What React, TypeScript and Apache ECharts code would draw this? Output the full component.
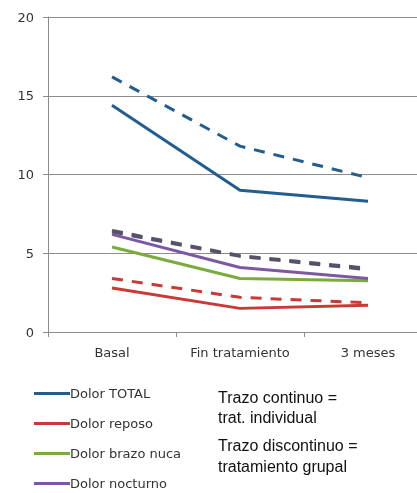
import React, { useEffect, useRef } from "react";
import * as echarts from "echarts";

const categories = ["Basal", "Fin tratamiento", "3 meses"];
const totalIndividual = [14.4, 9.0, 8.3];
const totalGrupal = [16.2, 11.8, 9.8];
const reposoIndividual = [2.8, 1.5, 1.7];
const reposoGrupal = [3.4, 2.2, 1.85];
const brazoIndividual = [5.4, 3.4, 3.25];
const brazoGrupal = [6.35, 4.8, 3.95];
const nocturnoIndividual = [6.2, 4.1, 3.4];
const nocturnoGrupal = [6.45, 4.85, 4.05];
const legendNames = ["Dolor TOTAL", "Dolor reposo", "Dolor brazo nuca", "Dolor nocturno"];
const noteLines = ["Trazo continuo =", "trat. individual", "Trazo discontinuo =", "tratamiento grupal"];

const BLUE = "#215d8f";
const RED = "#c83a35";
const GREEN = "#7aab3e";
const PURPLE = "#7c58a3";
const DASHGRAY = "#55526a";

function line(name: string, data: number[], color: string, dashed: boolean, z = 2) {
  return {
    type: "line",
    name,
    data,
    symbol: "none",
    z,
    lineStyle: { color, width: 3, type: dashed ? [11, 9] : "solid" },
    itemStyle: { color },
  };
}

export default function App() {
  const ref = useRef<HTMLDivElement>(null);
  useEffect(() => {
    if (!ref.current) return;
    const chart = echarts.init(ref.current, null, { renderer: "svg" });
    chart.setOption({
      animation: false,
      grid: { left: 48, top: 17, width: 384, height: 315, containLabel: false, outerBoundsMode: "none" },
      xAxis: {
        type: "category",
        data: categories,
        boundaryGap: true,
        axisLine: { lineStyle: { color: "#8c8c8c", width: 1 } },
        axisTick: { show: true, length: 5, lineStyle: { color: "#8c8c8c" } },
        axisLabel: { color: "#333", fontSize: 13, fontFamily: "DejaVu Sans", margin: 14, interval: 0 },
      },
      yAxis: {
        type: "value",
        min: 0,
        max: 20,
        interval: 5,
        axisLine: { show: true, lineStyle: { color: "#8c8c8c", width: 1 } },
        axisTick: { show: true, length: 5, lineStyle: { color: "#8c8c8c" } },
        splitLine: { lineStyle: { color: "#8c8c8c", width: 1 } },
        axisLabel: { color: "#333", fontSize: 13, fontFamily: "DejaVu Sans", margin: 14 },
      },
      legend: {
        data: legendNames,
        orient: "vertical",
        left: 34,
        top: 387,
        padding: 0,
        itemGap: 17,
        itemWidth: 36,
        itemHeight: 3,
        icon: "rect",
        textStyle: { color: "#333", fontSize: 13, fontFamily: "DejaVu Sans", padding: [0, 0, 0, -5] },
        selectedMode: false,
      },
      graphic: noteLines.map((t, i) => ({
        type: "text",
        left: 218,
        top: [389, 409, 437, 458][i],
        style: { text: t, fill: "#111", fontSize: 16, fontFamily: "Liberation Sans Narrow, Liberation Sans" },
      })),
      series: [
        line("Dolor TOTAL", totalIndividual, BLUE, false),
        line("Dolor TOTAL grupal", totalGrupal, BLUE, true),
        line("Dolor reposo", reposoIndividual, RED, false),
        line("Dolor reposo grupal", reposoGrupal, RED, true),
        line("Dolor brazo nuca", brazoIndividual, GREEN, false),
        line("Dolor brazo nuca grupal", brazoGrupal, DASHGRAY, true),
        line("Dolor nocturno", nocturnoIndividual, PURPLE, false, 3),
        line("Dolor nocturno grupal", nocturnoGrupal, DASHGRAY, true, 3),
      ],
    });
    return () => chart.dispose();
  }, []);
  return (
    <div
      ref={ref}
      style={{ position: "fixed", left: 0, top: 0, width: 417, height: 493, overflow: "visible" }}
    />
  );
}
